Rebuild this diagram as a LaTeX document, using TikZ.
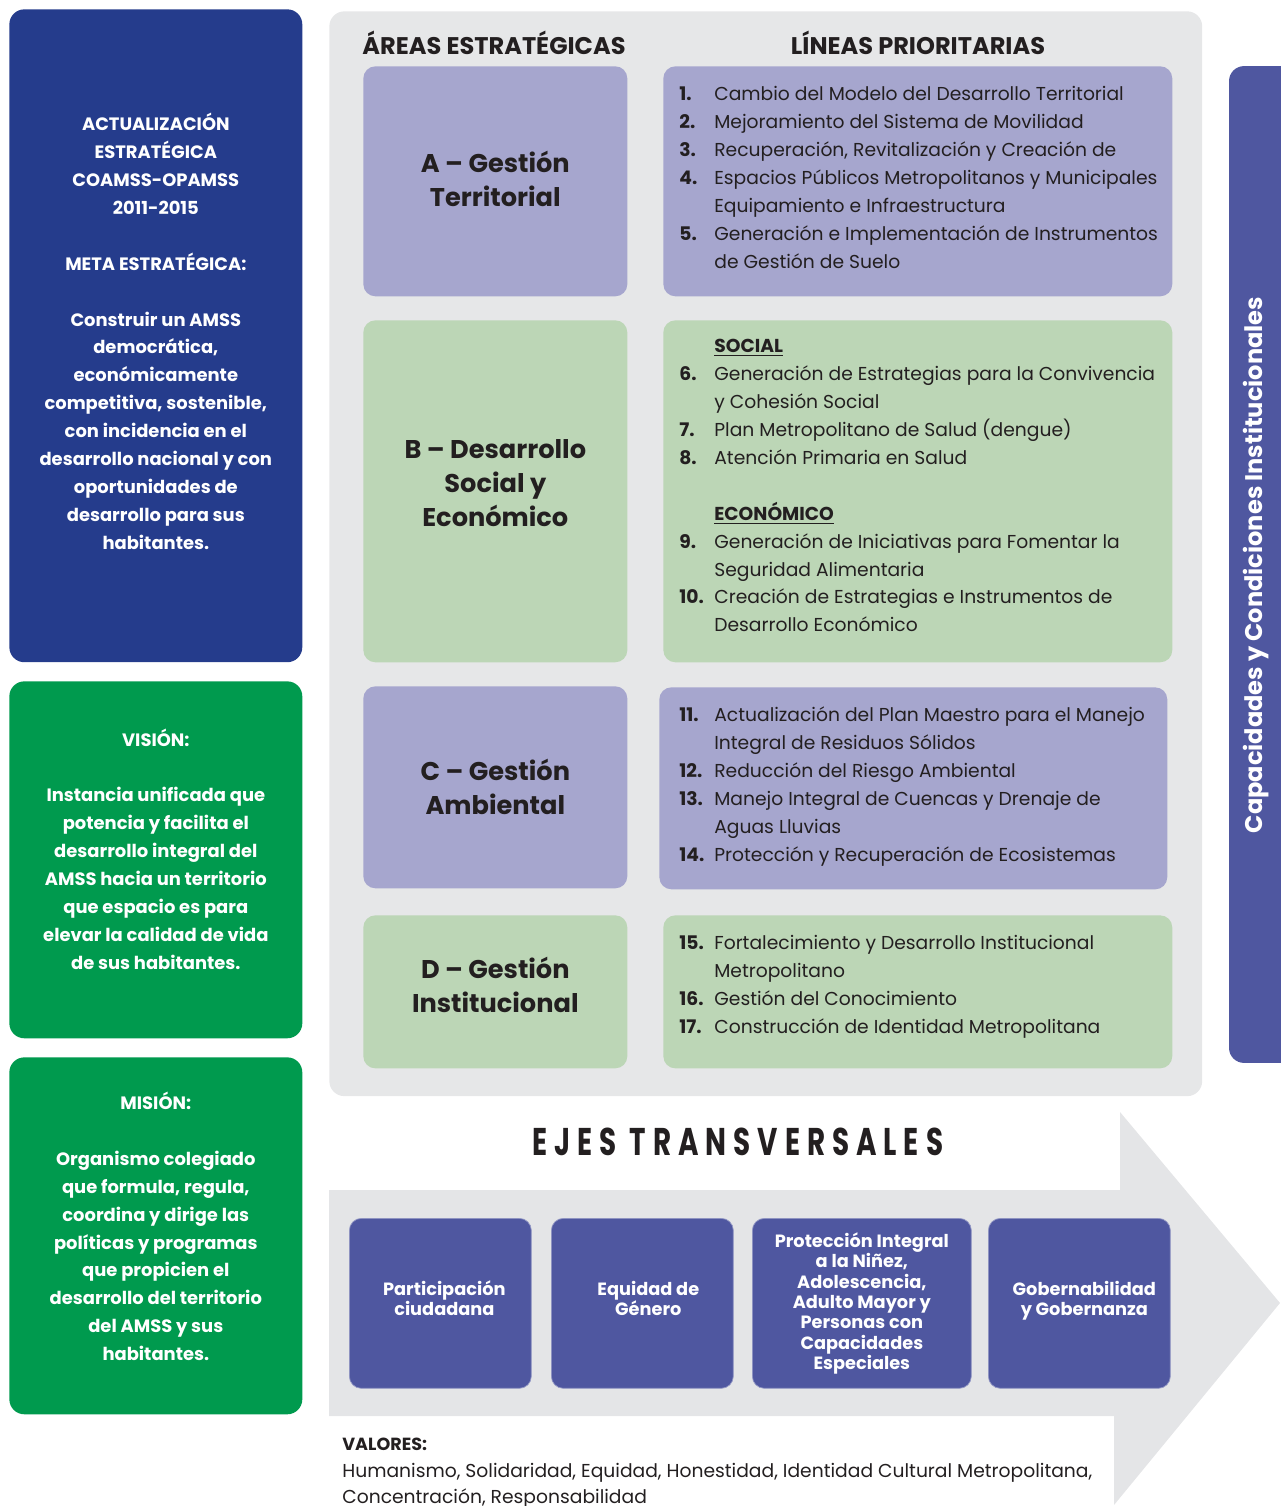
\documentclass[tikz,border=0pt]{standalone}
\usepackage{fontspec}
\setmainfont{Poppins}
\newfontfamily\ejesfont{Poppins}[FakeStretch=0.72,LetterSpace=18]
\usetikzlibrary{positioning}

\definecolor{metablue}{RGB}{37,60,140}
\definecolor{sidegreen}{RGB}{0,154,78}
\definecolor{areapurple}{RGB}{166,166,206}
\definecolor{areagreen}{RGB}{188,214,182}
\definecolor{panelgray}{RGB}{230,231,232}
\definecolor{arrowgray}{RGB}{228,229,231}
\definecolor{ejeblue}{RGB}{79,87,160}
\definecolor{textdark}{RGB}{35,31,32}

\newcommand\itm[2]{\strut\makebox[0.7cm][l]{\bfseries#1.}#2}
\newcommand\cnt[1]{\strut\hspace*{0.7cm}#1}
\newcommand\lift[1]{\rule[-#1]{0pt}{0pt}}

\begin{document}
\begin{tikzpicture}[x=0.02cm, y=-0.02cm]
        \useasboundingbox (0,0) rectangle (1280,1506);
        \tikzset{sidebox/.style={anchor=north west,
                rounded corners=0.3cm,
                minimum width=5.86cm,
                minimum height=#1,
                text=white,
                align=center,
                font=\bfseries\fontsize{10.2}{15.87}\selectfont
        }}
        \tikzset{areabox/.style={anchor=north west,
                rounded corners=0.24cm,
                minimum width=5.28cm,
                minimum height=#1,
                text=textdark,
                align=center,
                font=\bfseries\fontsize{14.6}{19.3}\selectfont
        }}
        \tikzset{linebox/.style={anchor=north west,
                rounded corners=0.24cm,
                minimum width=10.18cm,
                minimum height=#1
        }}
        \tikzset{linetext/.style={anchor=north west,
                inner sep=0pt,
                align=left,
                text=textdark,
                font=\fontsize{10.65}{15.87}\selectfont
        }}
        \tikzset{ejebox/.style={anchor=north west,
                rounded corners=0.24cm,
                fill=ejeblue,
                draw=ejeblue!60!white,
                minimum height=3.4cm,
                minimum width=#1,
                text=white,
                align=center,
                font=\bfseries\fontsize{10.1}{11.6}\selectfont
        }}
        \tikzset{header/.style={text=textdark, font=\bfseries\fontsize{13.7}{16}\selectfont}}

        % left column
        \node[sidebox=13.06cm, fill=metablue] (meta) at (9,9) {ACTUALIZACIÓN\\ESTRATÉGICA\\COAMSS-OPAMSS\\2011-2015\\[15.87pt]
                META ESTRATÉGICA:\\[15.87pt]
                Construir un AMSS\\democrática,\\económicamente\\competitiva, sostenible,\\con incidencia en el\\desarrollo nacional y con\\oportunidades de\\desarrollo para sus\\habitantes.\lift{0.18cm}};
        \node[sidebox=7.14cm, fill=sidegreen] (vision) at (9,681) {VISIÓN:\\[15.87pt]
                Instancia unificada que\\potencia y facilita el\\desarrollo integral del\\AMSS hacia un territorio\\que espacio es para\\elevar la calidad de vida\\de sus habitantes.\lift{0.44cm}};
        \node[sidebox=7.14cm, fill=sidegreen] (mision) at (9,1057) {MISIÓN:\\[15.87pt]
                Organismo colegiado\\que formula, regula,\\coordina y dirige las\\políticas y programas\\que propicien el\\desarrollo del territorio\\del AMSS y sus\\habitantes.\lift{0.38cm}};

        % panel with areas and lines
        \node[anchor=north west, fill=panelgray, rounded corners=0.3cm, minimum width=17.46cm, minimum height=21.7cm] (panel) at (329,11) {};
        \node[header] (areashead) at (494,43) {ÁREAS ESTRATÉGICAS};
        \node[header] (lineashead) at (918,43) {LÍNEAS PRIORITARIAS};

        \node[areabox=4.6cm, fill=areapurple] (areaA) at (363,66) {A – Gestión\\Territorial\lift{0.1cm}};
        \node[areabox=6.84cm, fill=areagreen] (areaB) at (363,320) {B – Desarrollo\\Social y\\Económico\lift{0.32cm}};
        \node[areabox=4.04cm, fill=areapurple] (areaC) at (363,686) {C – Gestión\\Ambiental};
        \node[areabox=3.06cm, fill=areagreen] (areaD) at (363,915) {D – Gestión\\Institucional\lift{0.28cm}};

        \node[linebox=4.6cm, fill=areapurple] (lineA) at (663,66) {};
        \node[linebox=6.84cm, fill=areagreen] (lineB) at (663,320) {};
        \node[linebox=4.04cm, fill=areapurple, minimum width=10.16cm] (lineC) at (659,687) {};
        \node[linebox=3.06cm, fill=areagreen] (lineD) at (663,915) {};

        \node[linetext] (listA) at (679,81.1) {\itm{1}{Cambio del Modelo del Desarrollo Territorial}\\
                \itm{2}{Mejoramiento del Sistema de Movilidad}\\
                \itm{3}{Recuperación, Revitalización y Creación de}\\
                \itm{4}{Espacios Públicos Metropolitanos y Municipales}\\
                \cnt{Equipamiento e Infraestructura}\\
                \itm{5}{Generación e Implementación de Instrumentos}\\
                \cnt{de Gestión de Suelo}};
        \node[linetext] (listB) at (679,333.1) {\cnt{\textbf{\underline{SOCIAL}}}\\
                \itm{6}{Generación de Estrategias para la Convivencia}\\
                \cnt{y Cohesión Social}\\
                \itm{7}{Plan Metropolitano de Salud (dengue)}\\
                \itm{8}{Atención Primaria en Salud}\\[15.87pt]
                \cnt{\textbf{\underline{ECONÓMICO}}}\\
                \itm{9}{Generación de Iniciativas para Fomentar la}\\
                \cnt{Seguridad Alimentaria}\\
                \itm{10}{Creación de Estrategias e Instrumentos de}\\
                \cnt{Desarrollo Económico}};
        \node[linetext] (listC) at (679,702.1) {\itm{11}{Actualización del Plan Maestro para el Manejo}\\
                \cnt{Integral de Residuos Sólidos}\\
                \itm{12}{Reducción del Riesgo Ambiental}\\
                \itm{13}{Manejo Integral de Cuencas y Drenaje de}\\
                \cnt{Aguas Lluvias}\\
                \itm{14}{Protección y Recuperación de Ecosistemas}};
        \node[linetext] (listD) at (679,930.1) {\itm{15}{Fortalecimiento y Desarrollo Institucional}\\
                \cnt{Metropolitano}\\
                \itm{16}{Gestión del Conocimiento}\\
                \itm{17}{Construcción de Identidad Metropolitana}};

        % right bar
        \node[fill=ejeblue, rounded corners=0.3cm, minimum width=19.94cm, minimum height=1.42cm, rotate=90] (capbar) at (1264.5,564.5) {};
        \node[rotate=90, text=white, font=\bfseries\fontsize{13.7}{16}\selectfont] (capacidades) at (1256,565) {Capacidades y Condiciones Institucionales};

        % arrow with the axes
        \fill[arrowgray] (329,1190) -- (1120,1190) -- (1120,1112) -- (1280,1303) -- (1114,1505) -- (1114,1416) -- (329,1416) -- cycle;
        \node[text=textdark, font=\ejesfont\bfseries\fontsize{22}{24}\selectfont] (ejestitle) at (738,1142) {EJES TRANSVERSALES};
        \node[ejebox=3.64cm] (participacion) at (349,1218) {\hspace*{0.16cm}Participación\\\hspace*{0.16cm}ciudadana\lift{0.2cm}};
        \node[ejebox=3.64cm] (equidad) at (551,1218) {\hspace*{0.24cm}Equidad de\\\hspace*{0.24cm}Género\lift{0.2cm}};
        \node[ejebox=4.38cm] (proteccion) at (752,1218) {Protección Integral\\a la Niñez,\\Adolescencia,\\Adulto Mayor y\\Personas con\\Capacidades\\Especiales};
        \node[ejebox=3.64cm] (gobernabilidad) at (988,1218) {\hspace*{0.2cm}Gobernabilidad\\\hspace*{0.2cm}y Gobernanza\lift{0.2cm}};

        \node[anchor=north west, inner sep=0pt, align=left, text=textdark, font=\fontsize{10.65}{14.74}\selectfont] (valores) at (342,1431.6) {{\fontsize{10}{14.74}\selectfont\strut\bfseries VALORES:}\\[1.1pt]
                Humanismo, Solidaridad, Equidad, Honestidad, Identidad Cultural Metropolitana,\\
                Concentración, Responsabilidad};
\end{tikzpicture}
\end{document}
